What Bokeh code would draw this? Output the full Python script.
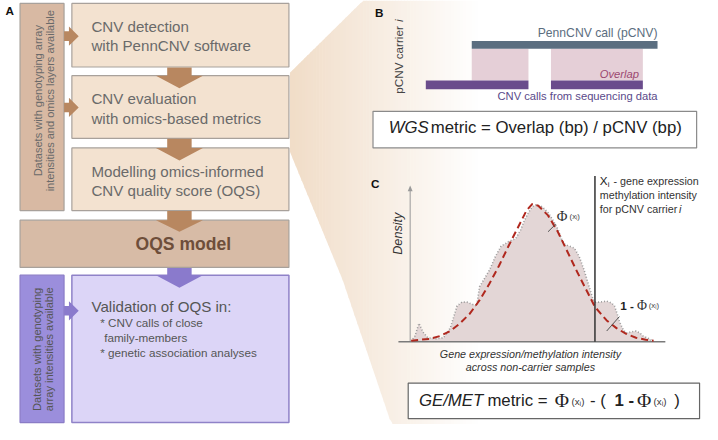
import numpy as np
from bokeh.plotting import figure
from bokeh.models import Range1d
from bokeh.core.properties import value
from bokeh.embed import file_html
from bokeh.resources import INLINE

# ---------------- content / data ----------------
flow_labels = [["CNV detection", "with PennCNV software"],
               ["CNV evaluation", "with omics-based metrics"],
               ["Modelling omics-informed", "CNV quality score (OQS)"]]
side_label_top = ["Datasets with genotyping array", "intensities and omics layers available"]
side_label_bottom = ["Datasets with genotyping", "array intensities available"]
oqs_label = "OQS model"
validation_title = "Validation of OQS in:"
validation_items = ["* CNV calls of close", "family-members", "* genetic association analyses"]

# panel B: genomic intervals (diagram units)
pcnv_call = [482, 672]
seq_call_start = [435, 563]
seq_call_end = [540, 657]
overlap_start = [482, 563]
overlap_end = [540, 657]

# panel C: observed density of non-carriers (x, height above baseline)
dens_x = [420, 424, 428, 432, 437, 445, 453, 460, 467, 472, 477, 482, 487, 490, 500, 506,
          512, 520, 527, 532, 536, 540, 544, 548, 554, 560, 565, 570, 574, 577, 582, 587,
          592, 597, 600, 603, 606, 608, 613, 620, 625, 628, 631, 633, 637, 640, 645, 650,
          654, 657, 661, 664, 667]
dens_h = [0, 6, 19, 10, 4, 3, 4, 14, 37, 41, 41, 39, 37, 57, 74, 88,
          99, 104, 107, 116, 126, 134, 140, 142, 140, 134, 126, 117, 106, 101, 99, 97,
          88, 74, 64, 54, 44, 41, 41, 42, 40, 37, 28, 21, 12, 9, 10, 11,
          9, 6, 4, 3, 0]
# fitted normal curve
norm_x = [420, 430, 440, 450, 460, 470, 480, 490, 500, 510, 520, 530, 538, 544, 550,
          560, 570, 580, 590, 600, 608, 620, 630, 640, 650, 660, 668]
norm_h = [1, 2, 3, 6, 11, 19, 29, 43, 60, 79, 100, 120, 136, 143, 141,
          131, 114, 93, 72, 52, 36, 22, 14, 8, 4, 2, 1]
carrier_x = 608
baseline_y = 354

# ---------------- figure ----------------
W, H = 718, 440
p = figure(width=702, height=424, x_range=Range1d(0, W), y_range=Range1d(H, 0),
           output_backend="svg", toolbar_location=None, min_border=0)
p.axis.visible = False
p.grid.visible = False
p.outline_line_color = None
p.background_fill_color = "white"
p.border_fill_color = "white"

SANS = value("Liberation Sans")
SERIF = value("Liberation Serif")
K = 0.975


def txt(x, y, s, size, color="#333333", style="normal", align="left",
        baseline="middle", angle=0.0, font=SANS):
    p.text(x=[x], y=[y], text=[s], text_font=font,
           text_font_size=f"{size * K:.2f}px", text_color=color,
           text_font_style=style, text_align=align, text_baseline=baseline,
           angle=angle)


def box(l, r, t, b, fill, line="#a8a19b", lw=1.2):
    p.quad(left=[l], right=[r], top=[t], bottom=[b], fill_color=fill,
           line_color=line, line_width=lw)


# ---------------- fan (gradient) ----------------
def fan_top(x):
    return max(0.0, 75 - (x - 296) * 1.0)


def fan_bot(x):
    if x <= 350:
        return 157 + (x - 296) * (133 / 54)
    return min(440.0, 290 + (x - 350) * 3.0)


c0 = np.array([241, 221, 200])
c1 = np.array([255, 255, 255])
xs_edges = np.arange(296, 500, 3.0)
for a in xs_edges:
    b = a + 3.6
    t = min(1.0, (a - 296) / 190.0)
    c = (c0 * (1 - t) + c1 * t).astype(int)
    col = "#%02x%02x%02x" % tuple(c)
    p.patch(x=[a, b, b, a], y=[fan_top(a), fan_top(b), fan_bot(b), fan_bot(a)],
            fill_color=col, line_color=None)

# ---------------- panel A ----------------
txt(5, 10, "A", 12, color="#111111", style="bold")
PEACH = "#f3e2d0"
TAN = "#d8b9a3"
BROWN = "#b88760"
box(20, 65, 3, 218, TAN)
flow_y = [(3, 69), (78, 143), (153, 218)]
for (t, b), lines in zip(flow_y, flow_labels):
    box(73, 295, t, b, PEACH)
    txt(93, t + 24, lines[0], 15.5, color="#6a6a6a")
    txt(93, t + 44, lines[1], 15.5, color="#6a6a6a")
box(20, 295, 228, 277, "#d7bba6")
txt(187, 253, oqs_label, 18, color="#6e4e3a", style="bold", align="center")

box(20, 65, 285, 438, "#9b8edc", line="#8a7cc6")
box(73, 295, 285, 438, "#dcd5f7", line="#8f82c8", lw=1.5)
txt(93, 318, validation_title, 15.5, color="#555555")
txt(102, 334, validation_items[0], 12, color="#555555")
txt(106, 350, validation_items[1], 12, color="#555555")
txt(102, 365, validation_items[2], 12, color="#555555")

# rotated side labels
txt(38, 104, side_label_top[0], 11.3, color="#6a6a6a", align="center", angle=np.pi / 2)
txt(51, 104, side_label_top[1], 11.3, color="#6a6a6a", align="center", angle=np.pi / 2)
txt(37, 362, side_label_bottom[0], 11.3, color="#555555", align="center", angle=np.pi / 2)
txt(50, 362, side_label_bottom[1], 11.3, color="#555555", align="center", angle=np.pi / 2)


def down_arrow(cx, y0, y1, y2, col):
    p.patch(x=[cx - 12.5, cx + 12.5, cx + 12.5, cx + 24, cx, cx - 24, cx - 12.5],
            y=[y0, y0, y1, y1, y2, y1, y1], fill_color=col, line_color=None)


def right_arrow(cy, col):
    p.patch(x=[65, 70, 70, 80, 70, 70, 65],
            y=[cy - 5, cy - 5, cy - 10, cy, cy + 10, cy + 5, cy + 5],
            fill_color=col, line_color=None)


down_arrow(183, 69.5, 78, 91, BROWN)
down_arrow(183, 143.5, 153, 166, BROWN)
down_arrow(183, 218.5, 228, 240, BROWN)
down_arrow(183, 277.5, 285, 298, "#8a7acc")
right_arrow(37, BROWN)
right_arrow(111, BROWN)
right_arrow(322, "#8a7acc")

# ---------------- panel B ----------------
txt(383, 12, "B", 12, color="#111111", style="bold")
txt(407, 60, "pCNV carrier ", 12, color="#444444", align="center", angle=np.pi / 2)
txt(407, 21, "i", 12, color="#444444", style="italic", align="center", angle=np.pi / 2)

p.quad(left=overlap_start, right=overlap_end, top=[50, 50], bottom=[83, 83],
       fill_color="#e5cfd7", line_color=None)
p.quad(left=[pcnv_call[0]], right=[pcnv_call[1]], top=[42], bottom=[50],
       fill_color="#5b6e80", line_color=None)
p.quad(left=seq_call_start, right=seq_call_end, top=[83, 83], bottom=[92, 92],
       fill_color="#6a4c8c", line_color=None)
txt(672, 34, "PennCNV call (pCNV)", 12.5, color="#5b6e80", align="right")
txt(653, 76, "Overlap", 11.5, color="#9c4870", style="italic", align="right")
txt(672, 99, "CNV calls from sequencing data", 11.5, color="#5a4a8a", align="right")

box(381, 712, 115, 153, "white", line="#8a8a8a", lw=1.2)
txt(397, 132, "WGS", 17.2, color="#222222", style="italic")
txt(440, 132, "metric = Overlap (bp) / pCNV (bp)", 17.2, color="#222222")

# ---------------- panel C ----------------
txt(379, 190, "C", 12, color="#111111", style="bold")
txt(407, 242, "Density", 13, color="#333333", style="italic", align="center", angle=np.pi / 2)

dens_y = [baseline_y - h for h in dens_h]
norm_y = [baseline_y - h for h in norm_h]
p.patch(x=dens_x + [dens_x[-1], dens_x[0]], y=dens_y + [baseline_y, baseline_y],
        fill_color="#e3d6d6", line_color=None)
# y axis arrow
p.segment(x0=[419], y0=[baseline_y], x1=[419], y1=[197], line_color="#9a9a9a", line_width=1)
p.patch(x=[416.5, 419, 421.5], y=[198, 192, 198], fill_color="#9a9a9a", line_color=None)
p.segment(x0=[407], y0=[baseline_y], x1=[680], y1=[baseline_y], line_color="#7a7a7a", line_width=1.5)
p.line(dens_x, dens_y, line_color="#9a9a9a", line_width=1.6, line_dash="1 2")
p.line(norm_x, norm_y, line_color="#b0281e", line_width=2, line_dash="7 4")
p.segment(x0=[carrier_x], y0=[182], x1=[carrier_x], y1=[baseline_y], line_color="#333333", line_width=1.5)

txt(613, 187, "X", 12, color="#222222")
txt(621, 191, "i", 8, color="#222222")
txt(627, 187, "- gene expression", 11, color="#333333")
txt(613, 202, "methylation intensity", 11, color="#333333")
txt(613, 216, "for pCNV carrier ", 11, color="#333333")
txt(694, 216, "i", 11, color="#333333", style="italic")

# phi annotations
p.segment(x0=[560], y0=[240], x1=[568], y1=[232], line_color="#555555", line_width=1)
txt(569, 224, "Φ", 15, color="#333333", font=SERIF)
txt(582, 224, "(xᵢ)", 8, color="#444444")
p.segment(x0=[620], y0=[343], x1=[633], y1=[328], line_color="#555555", line_width=1)
txt(634, 316, "1 -", 12, color="#222222", style="bold")
txt(651, 316, "Φ", 14, color="#333333", font=SERIF)
txt(663, 316, "(xᵢ)", 8, color="#444444")

txt(542, 367, "Gene expression/methylation intensity", 11, color="#333333", style="italic", align="center")
txt(542, 380, "across non-carrier samples", 11, color="#333333", style="italic", align="center")

box(417, 715, 397, 434, "white", line="#666666", lw=1.2)
txt(428, 415, "GE/MET", 17.2, color="#222222", style="italic")
txt(498, 415, "metric =", 17.2, color="#222222")
txt(567, 415, "Φ", 20, color="#222222", font=SERIF)
txt(584, 416, "(xᵢ)", 10, color="#333333")
txt(603, 415, "- (", 17.2, color="#222222")
txt(628, 415, "1 -", 17.2, color="#222222", style="bold")
txt(651, 415, "Φ", 20, color="#222222", font=SERIF)
txt(668, 416, "(xᵢ)", 10, color="#333333")
txt(689, 415, ")", 17.2, color="#222222")

open("out.html", "w").write(file_html(p, INLINE))
